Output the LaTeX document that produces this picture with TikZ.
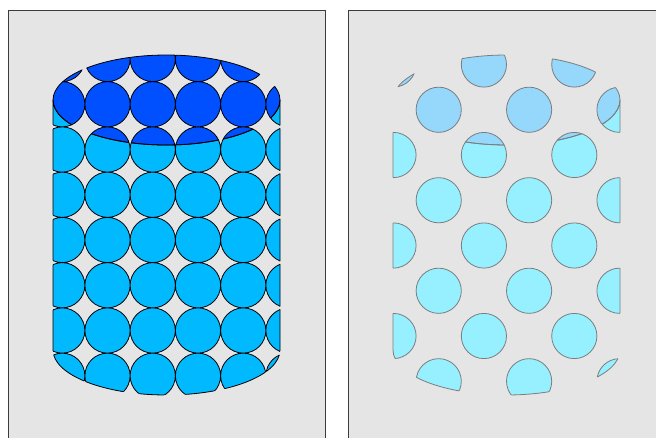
\documentclass[tikz,border=0pt]{standalone}
\definecolor{panelbg}{RGB}{229,229,229}
\definecolor{panelframe}{RGB}{60,60,60}
\definecolor{leftdark}{RGB}{0,80,255}
\definecolor{leftlight}{RGB}{0,185,255}
\definecolor{rightdark}{RGB}{150,215,252}
\definecolor{rightlight}{RGB}{150,240,255}
\definecolor{rightstroke}{RGB}{125,125,125}
% top face of the cylinder
\newcommand\topface{(166.5,100) ellipse[x radius=113.5, y radius=45]}
% visible side of the cylinder
\newcommand\sideface{(53,100) -- (53,350) .. controls (53,374.85) and (103.81,395) .. (166.5,395) .. controls (229.19,395) and (280,374.85) .. (280,350) -- (280,100) .. controls (280,124.85) and (229.19,145) .. (166.5,145) .. controls (103.81,145) and (53,124.85) .. (53,100) -- cycle}
% square grid of dots (left)
\newcommand\sqdots{foreach \j in {0,...,7}{foreach \k in {0,...,5}{({62.25+45.25*\k},{59+45.25*\j}) circle[radius=22.6]}}}
% staggered grid of dots (right)
\newcommand\hexdots{foreach \j in {0,...,7}{foreach \m in {0,1,2}{({53.5+45.2*(2*\m+mod(\j,2))},{64.5+45.25*\j}) circle[radius=22.6]}}}
\tikzset{
  panel/.style={fill=panelbg, draw=panelframe, line width=1pt},
  sqdot/.style={draw=black, line width=0.8pt},
  hexdot/.style={draw=rightstroke, line width=0.8pt},
}
\begin{document}
\begin{tikzpicture}[x=1pt,y=-1pt]
\useasboundingbox (0,0) rectangle (656,437);
\clip (0,0) rectangle (656,437);
\fill[white] (0,0) rectangle (656,437);
% panels
\path[panel] (8,10) rectangle (325,450);
\path[panel] (348,10) rectangle (670,450);
% ---------- left cylinder ----------
\begin{scope}
  \clip \sideface;
  \path[sqdot, fill=leftlight] \sqdots;
\end{scope}
\begin{scope}
  \clip \topface;
  \path[sqdot, fill=leftdark] \sqdots;
\end{scope}
\begin{scope}
  \clip \sqdots;
  \draw[sqdot] \sideface;
  \draw[sqdot] \topface;
\end{scope}
% ---------- right cylinder ----------
\begin{scope}[xshift=340pt]
  \begin{scope}
    \clip \sideface;
    \path[hexdot, fill=rightlight] \hexdots;
  \end{scope}
  \begin{scope}
    \clip \topface;
    \path[hexdot, fill=rightdark] \hexdots;
  \end{scope}
  \begin{scope}
    \clip \hexdots;
    \draw[hexdot] \sideface;
    \draw[hexdot] \topface;
  \end{scope}
\end{scope}
\end{tikzpicture}
\end{document}
